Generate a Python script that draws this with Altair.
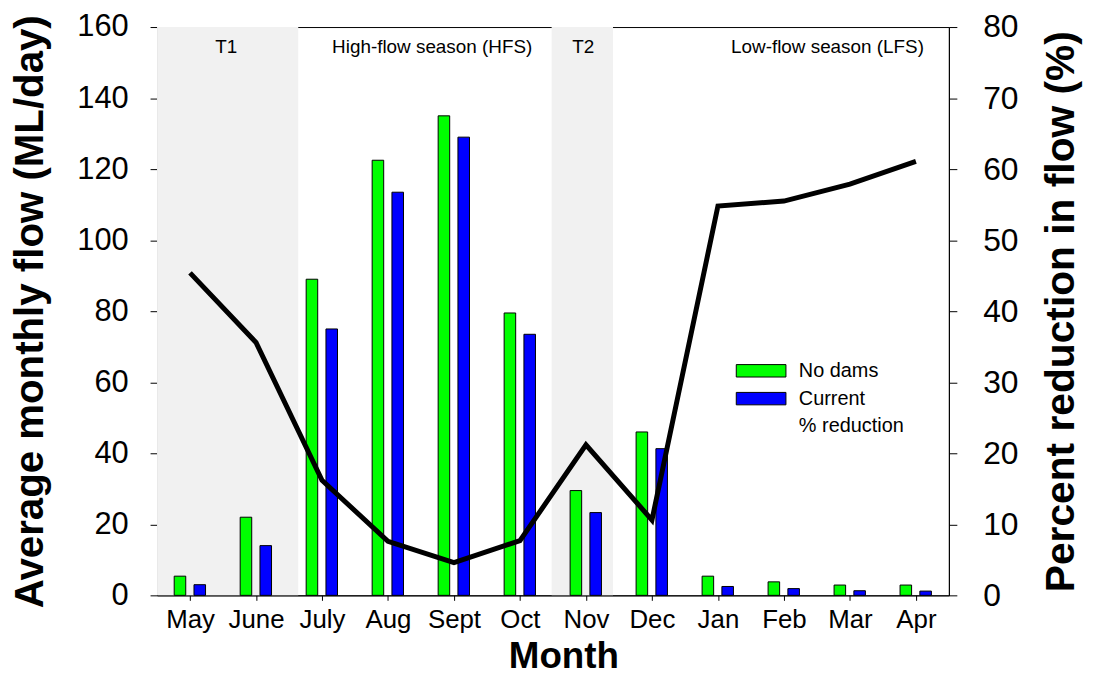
import json
import altair as alt
import pandas as pd

# ---------------- data ----------------
months = ["May", "June", "July", "Aug", "Sept", "Oct", "Nov", "Dec", "Jan", "Feb", "Mar", "Apr"]
no_dams = [5.4, 22.0, 89.0, 122.5, 135.0, 79.5, 29.5, 46.0, 5.4, 3.8, 2.9, 2.9]
current = [3.0, 14.0, 75.0, 113.5, 129.0, 73.5, 23.3, 41.3, 2.5, 1.9, 1.3, 1.2]
pct_reduction = [45.4, 35.6, 16.2, 7.6, 4.6, 7.7, 21.2, 10.6, 54.8, 55.5, 57.9, 61.1]
series = ["No dams", "Current", "% reduction"]
period_labels = ["T1", "High-flow season (HFS)", "T2", "Low-flow season (LFS)"]
shaded_periods = ["T1", "T2"]
left_ticks = [0, 20, 40, 60, 80, 100, 120, 140, 160]
right_ticks = [0, 10, 20, 30, 40, 50, 60, 70, 80]

# ---------------- layout (month-index units) ----------------
shade_from = [-0.5, 5.48]
shade_to = [1.64, 6.41]
label_x = [0.55, 3.67, 5.96, 9.66]
label_y = 152.7
bar_offsets = {"No dams": (-0.24, -0.065), "Current": (0.06, 0.235)}

FONT = "Liberation Sans"
W, H = 797, 572

idx = list(range(len(months)))

rows = []
for i in idx:
    for name, vals in (("No dams", no_dams), ("Current", current)):
        lo, hi = bar_offsets[name]
        rows.append({"month": months[i], "series": name, "value": vals[i],
                     "x0": i + lo, "x1": i + hi})
bars_df = pd.DataFrame(rows)
line_df = pd.DataFrame({"i": idx, "month": months, "pct": pct_reduction})
shade_df = pd.DataFrame({"period": shaded_periods, "start": shade_from, "end": shade_to})
label_df = pd.DataFrame({"label": period_labels, "x": label_x, "y": [label_y] * len(period_labels)})

x_scale = alt.Scale(domain=[-0.5, 11.5], nice=False, zero=False)
x_axis = alt.Axis(values=idx, labelExpr=f"{json.dumps(months)}[datum.value]",
                  title="Month", labelFontSize=26, titleFontSize=37, titleFontWeight="bold",
                  tickSize=5, labelPadding=6, titlePadding=7, labelFlush=False,
                  titleX=409)
y_scale = alt.Scale(domain=[0, 160], nice=False)
y_axis = alt.Axis(values=left_ticks, title="Average monthly flow  (ML/day)",
                  labelFontSize=31, titleFontSize=40.5, titleFontWeight="bold",
                  tickSize=7, labelPadding=22, titlePadding=26)
y2_scale = alt.Scale(domain=[0, 80], nice=False)
y2_axis = alt.Axis(values=right_ticks, title="Percent reduction in flow (%)", orient="right",
                   labelFontSize=32, titleFontSize=41, titleFontWeight="bold",
                   tickSize=8, labelPadding=26, titlePadding=24, titleAngle=270,
                   titleBaseline="top")

legend_kw = dict(orient="none", legendX=595, legendY=333,
                 symbolType="M-2,-0.5H2V0.5H-2Z", symbolSize=625,
                 symbolStrokeWidth=1, labelFontSize=20, labelFont=FONT,
                 labelOffset=25, rowPadding=5, labelColor="black")

shade = alt.Chart(shade_df).mark_rect(color="#f1f1f1").encode(
    x=alt.X("start:Q", scale=x_scale, axis=x_axis),
    x2="end:Q",
)

bars = alt.Chart(bars_df).mark_bar(strokeWidth=1).encode(
    x=alt.X("x0:Q", scale=x_scale, axis=x_axis),
    x2="x1:Q",
    y=alt.Y("value:Q", scale=y_scale, axis=y_axis),
    y2=alt.datum(0),
    fill=alt.Fill("series:N", title=None,
                  scale=alt.Scale(domain=series, range=["#00ff00", "#0000ff", "rgba(0,0,0,0)"]),
                  legend=alt.Legend(**legend_kw)),
    stroke=alt.Stroke("series:N", title=None,
                      scale=alt.Scale(domain=series, range=["black", "black", "rgba(0,0,0,0)"]),
                      legend=alt.Legend(**legend_kw)),
)

labels = alt.Chart(label_df).mark_text(fontSize=19, font=FONT, color="black",
                                       baseline="alphabetic", align="center").encode(
    x=alt.X("x:Q", scale=x_scale, axis=x_axis),
    y=alt.Y("y:Q", scale=y_scale, axis=y_axis),
    text="label:N",
)

line = alt.Chart(line_df).mark_line(color="black", strokeWidth=5).encode(
    x=alt.X("i:Q", scale=x_scale, axis=x_axis),
    y=alt.Y("pct:Q", scale=y2_scale, axis=y2_axis),
)

left = alt.layer(shade, bars, labels)
chart = alt.layer(left, line).resolve_scale(y="independent").properties(
    width=W, height=H,
    autosize=alt.AutoSizeParams(type="none"),
    padding={"left": 150, "top": 17, "right": 138, "bottom": 78},
).configure_view(stroke="black", strokeWidth=1).configure_axis(
    labelFont=FONT, titleFont=FONT, grid=False, domainColor="black", tickColor="black",
    labelColor="black", titleColor="black", domainWidth=1, tickWidth=1,
)

chart.save("out.html", embed_options={"renderer": "svg", "actions": False})
